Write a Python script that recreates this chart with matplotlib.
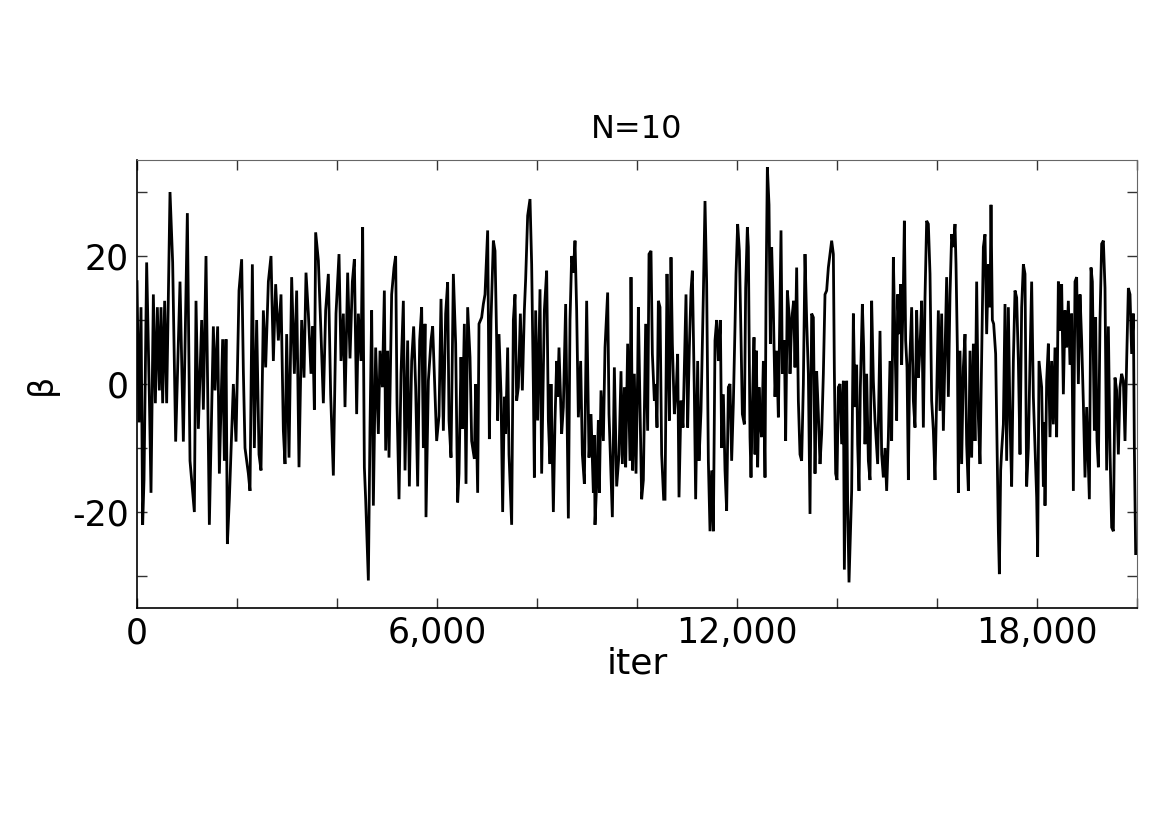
import matplotlib
matplotlib.use("Agg")
import matplotlib.pyplot as plt
from matplotlib.ticker import FuncFormatter, MultipleLocator

# trace of beta (iteration, value)
iters = [0, 40, 80, 113, 140, 193, 247, 280, 327, 367, 407, 447, 480, 513, 553, 593,
         660, 713, 773, 860, 927, 1007, 1060, 1147, 1180, 1227, 1293, 1327, 1380, 1447,
         1527, 1560, 1613, 1647, 1713, 1747, 1780, 1807, 1847, 1927, 1980, 2040,
         2093, 2127, 2160, 2227, 2260, 2307, 2347, 2393, 2440, 2480, 2527, 2573, 2627,
         2680, 2727, 2773, 2827, 2880, 2927, 2960, 2993, 3040, 3093, 3147, 3193, 3240,
         3293, 3340, 3380, 3427, 3480, 3513, 3547, 3573, 3627, 3680, 3727, 3773, 3827,
         3873, 3927, 3980, 4040,
         4080, 4127, 4160, 4213, 4260, 4307, 4347, 4393, 4427, 4480, 4513, 4547, 4573,
         4607, 4627, 4660, 4693, 4727, 4773, 4827, 4860, 4907, 4947, 4973, 5013, 5040,
         5093, 5140, 5173, 5200, 5240, 5280, 5327, 5360, 5413, 5447, 5493, 5533, 5573,
         5613, 5653, 5693, 5727, 5760, 5780, 5827, 5880, 5913, 5993, 6040, 6080,
         6127, 6173, 6213, 6240, 6280, 6327, 6373, 6413, 6440, 6480, 6507, 6547, 6580,
         6613, 6660, 6693, 6747, 6773, 6813, 6840, 6893, 6927, 6960, 7013, 7047, 7080,
         7127, 7160, 7193, 7213, 7240, 7280, 7313, 7347, 7373, 7413, 7440, 7493, 7527,
         7560, 7593, 7627, 7667, 7707, 7747, 7773, 7813, 7860, 7893, 7927, 7947, 7973,
         8013, 8060, 8093,
         8147, 8193, 8227, 8260, 8280, 8327, 8360, 8393, 8413, 8440, 8493, 8527, 8573,
         8627, 8660, 8693, 8727, 8760, 8793, 8827, 8873, 8907, 8947, 8993, 9040, 9080,
         9127, 9147, 9160, 9193, 9227, 9247, 9280, 9327, 9360, 9413, 9440, 9480, 9507,
         9547, 9593, 9640, 9680, 9707, 9747, 9773, 9813, 9860, 9880, 9913, 9947, 9980,
         10013, 10027,
         10060, 10093, 10127, 10173, 10213, 10240, 10280, 10307, 10347, 10373, 10400,
         10427, 10460, 10493, 10533, 10560, 10600, 10627, 10647, 10680, 10707, 10747,
         10787, 10813, 10840, 10880, 10920, 10960, 10980, 11013, 11047, 11080, 11107,
         11147, 11173, 11213, 11240, 11280, 11327, 11360, 11393, 11427, 11460, 11493,
         11527, 11560, 11593, 11627, 11667, 11693, 11727, 11760, 11793, 11827, 11860,
         11893, 11927, 11960, 11980, 12013, 12047, 12080, 12107,
         12147, 12173, 12207, 12227, 12260, 12280, 12307, 12340, 12360, 12387, 12413,
         12440, 12467, 12493, 12527, 12560, 12580, 12607, 12640, 12667, 12693, 12727,
         12760, 12793, 12827, 12860, 12880, 12907, 12947, 12973, 13007, 13040, 13060,
         13093, 13133, 13160, 13193, 13227, 13260, 13293, 13327, 13360, 13393, 13427,
         13460, 13493, 13527, 13560, 13593, 13627, 13660, 13693, 13727, 13760, 13793,
         13827, 13860, 13893, 13927, 13947, 13973, 14000, 14027, 14060, 14093, 14127,
         14147,
         14193, 14213, 14240, 14267, 14293, 14327, 14360, 14393, 14413, 14440, 14467,
         14507, 14533, 14560, 14593, 14627, 14660, 14693, 14727, 14760, 14813, 14860,
         14893, 14927, 14960, 14993, 15027, 15060, 15093, 15127, 15160, 15193, 15213,
         15247, 15273, 15293, 15327, 15347, 15373, 15400, 15427, 15453, 15493, 15527,
         15560, 15593, 15627, 15660, 15693, 15727, 15760, 15793, 15827, 15860, 15893,
         15927, 15960, 15993, 16027, 16060, 16093,
         16127, 16160, 16193, 16227, 16260, 16293, 16327, 16360, 16380, 16407, 16427,
         16460, 16493, 16527, 16560, 16593, 16627, 16660, 16693, 16727, 16760, 16793,
         16827, 16860, 16893, 16927, 16960, 16993, 17027, 17060, 17080, 17107, 17133,
         17173, 17200, 17227, 17247, 17273, 17293, 17327, 17360, 17393, 17427, 17460,
         17493, 17527, 17560, 17593, 17627, 17660, 17693, 17727, 17760, 17793, 17827,
         17860, 17893, 17927, 17960, 17993, 18013, 18040,
         18093, 18127, 18147, 18160, 18193, 18227, 18260, 18293, 18327, 18360, 18393,
         18427, 18460, 18493, 18527, 18560, 18593, 18627, 18660, 18693, 18727, 18760,
         18793, 18827, 18860, 18893, 18927, 18960, 18993, 19027, 19047, 19080, 19107,
         19147, 19173, 19200, 19227, 19260, 19293, 19327, 19360, 19393, 19427, 19460,
         19493, 19527, 19560, 19593, 19627, 19660, 19693, 19727, 19760, 19793, 19827,
         19860, 19893, 19927, 19947, 19973]

beta = [16, -6, 12, -22, -15, 19, -2, -17, 14, -3, 12, -1, 12, -3, 13, -3,
        30, 19, -9, 16, -9, 26.7, -12, -20, 13, -7, 10, -4, 20, -22,
        9, -1, 9, -14, 7, -12, 7, -25, -18, 0, -9, 14.6,
        19.5, 2, -10, -14, -16.7, 18.7, -10, 10, -11, -13.5, 11.5, 2.6, 16,
        20, 3.6, 15.6, 6.8, 14, -7.3, -12.5, 7.8, -11.5, 16.7, 1.6, 14.6, -13,
        10, 1, 17.4, 11, 1.6, 9, -4, 23.7, 19.3, 7.8, -3, 11.5, 17.2,
        -1.6, -14.3, 11, 20.3,
        3.6, 11, -3.6, 17.4, 4, 16, 19.5, -4.7, 11, 3.6, 24.5, -13, -18,
        -26, -30.7, -6.8, 11.5, -19, 5.7, -7.8, 5.2, -0.5, 14.6, -10.4, 5.2, -11.5,
        14, 18.2, 20, -3, -18, 1.6, 13, -13.5, 6.8, -16, 3.6, 9, -0.5,
        -16, 6.8, 12, -10, 9.4, -20.8, 0.5, 6.8, 9, -8.9, -5, 13.3,
        -7.3, 11, 15.9, -5.7, -11.5, 17.2, 6.3, -18.5, -14, 4.2, -7, 9.4, -15.6,
        12, 4.2, -8.9, -11.7, 0, -17, 9.4, 10.4, 12.5, 14, 24, -8.6, 10,
        22.4, 20.8, 6.8, -5.7, 7.8, -1.6, -20, -2, -7.8, 5.7, -11, -22, 10,
        14, -2.6, -0.5, 11, -1, 11.5, 16.4, 26.3, 28.9, 18.7, -0.5, -14.6, 11.5,
        -5.7, 14.8, -14,
        11.5, 17.7, -5.7, -12.5, 0, -20, -5.7, 3.6, -2, 5.7, -7.8, -3.6, 12.5,
        -21, 10, 20, 17.4, 22.4, 11.5, -5.2, 3.6, -11, -15.6, 13, -11.5, -4.7,
        -17, -8, -22, -15.6, -5.7, -17, -1, -8.9, 5.7, 14.3, -4.7, -14.6, -20.8,
        2.6, -16, -11, 2, -12.5, -0.5, -13, 6.3, -12, 16.7, -13.5, 1.6, -14,
        1.6, 12,
        -3.6, -18, -15, 9.4, -7.3, 20.3, 20.8, 4.7, -2.6, 0, -6.8,
        13, 12, -11, -18, -18, 17.2, 3, -5.7, 19.8, 6.3, -4.7,
        -0.5, 4.7, -17.7, -2.6, -6.8, 6.8, 14, -6.8, 5.7, 14.6, 17.7,
        -1.6, -18, 3.6, -12, -4.2, 14, 28.6, 15.6, -12, -23, -13.5,
        -23, 6.8, 10, 3.6, 10, -10, -1.6, -13.5, -19.8, -0.5, 0,
        -12, -3, 9, 17.2, 25, 20.8, 7.3, -4.7,
        -6.3, 15, 24.5, 21.4, -8.3, -14.6, -3.6, 7.3, -11, 5.2, -13,
        -0.5, -6.3, -8.3, 3.6, -14.6, 13.5, 33.9, 28, 6.3, 21.4, 11.5,
        -2, 5.2, -5.2, 13.5, 24, 1.6, 6.8, -8.9, 14.6, 11, 1.6,
        10, 13, 2.6, 18.2, -2.6, -11, -12, 0, 20.3, 10, 1.6,
        -20.3, 11, 10.4, -14, 2, -4.7, -12.5, -7.8, 1.6, 14, 14.6,
        18.2, 20.3, 22.4, 20.3, 2, -14, -15, -0.5, 0, -9.4, 0.5,
        -29,
        0.5, -18.7, -31, -24, -16.7, 11, -3.6, 3, -9.4, -16.7, -0.5,
        12.5, 5.7, -9.4, 1.6, -12, -15, 13, 0.5, -5.7, -12.5, 8.3,
        -11, -14.6, -10, -16.7, -8.3, 3.6, -8.9, 19.8, 6.3, -5.7, 14,
        7.8, 15.6, 3, 15, 25.5, 6.8, 2.6, -15, 3, 12, -2.6,
        -6.8, 11.5, 1, 5.7, 13, -6.8, 13.5, 25.5, 25, 17.2, -2.6,
        -7.3, -15, -2, 11.5, -4.2, 11,
        -7.3, 4.7, 16.7, -2, 14, 23.4, 21.4, 25, 18.7, 5.7, -17,
        5.2, -12.5, 2.6, 7.8, -9.4, -16.7, 5.2, -11.5, 6.3, -8.9, 16,
        -5.2, -12.5, 4.2, 21.4, 23.4, 7.8, 18.7, 12, 28, 10, 9.4,
        4.7, -9.4, -23, -29.7, -13.5, -10.4, -6.3, 12.5, -12, 12, -5.7,
        -16, 3.6, 14.6, 13.5, 3.6, -11, 12, 18.7, 17.2, -16, -10,
        3.6, 16, -2, -10, -17.7, -27, 3.6,
        -0.5, -16, -6, -19, 0.5, 6.3, -8.3, 3.6, -6.3, 5.7, -8.3,
        16, 8.3, 15.6, -1.6, 11.5, 5.7, 13, 3, 11, -16.7, 16,
        16.7, 0, 14, 6.8, -3, -14.6, -3.6, -13, -18, 18.2, 16,
        -7.3, 10.4, -8.9, -13, 10, 21.9, 22.4, 15, -13.5, 9, -10.4,
        -22.4, -23, 1, -1, -11, -0.5, 1.6, 0.5, -8.9, 3.6, 15,
        14, 4.7, 11, -10, -26.5]

title = "N=10"
x_major = [0, 6000, 12000, 18000]
y_ticks = [-30, -20, -10, 0, 10, 20, 30]
y_labeled = [-20, 0, 20]

plt.rcParams['font.family'] = ['DejaVu Sans']

fig = plt.figure(figsize=(11.7, 8.27), dpi=100)
ax = fig.add_axes([0.1171, 0.2648, 0.8547, 0.5417])

ax.plot(iters, beta, color='black', linewidth=2.0, solid_joinstyle='miter')

ax.set_xlim(0, 20000)
ax.set_ylim(-35, 35)

ax.set_xticks(x_major)
ax.xaxis.set_minor_locator(MultipleLocator(2000))
ax.xaxis.set_major_formatter(FuncFormatter(lambda v, p: format(int(v), ',')))
ax.set_yticks(y_ticks)
ax.set_yticklabels([str(v) if v in y_labeled else '' for v in y_ticks])

ax.tick_params(axis='both', which='both', direction='in', top=True, right=True,
               colors='#333333', labelcolor='black')
ax.tick_params(axis='both', which='major', length=7, width=1, labelsize=25, pad=6)
ax.tick_params(axis='x', which='minor', length=7, width=1)

for side in ['top', 'right']:
    ax.spines[side].set_color('#666666')
for side in ['bottom', 'left']:
    ax.spines[side].set_color('black')
    ax.spines[side].set_linewidth(1.2)

ax.set_title(title, fontsize=23, pad=16)
ax.set_xlabel('iter', fontsize=26, labelpad=-3)
ax.set_ylabel('β', fontsize=24, labelpad=10)

plt.savefig('out.png', dpi=100)
